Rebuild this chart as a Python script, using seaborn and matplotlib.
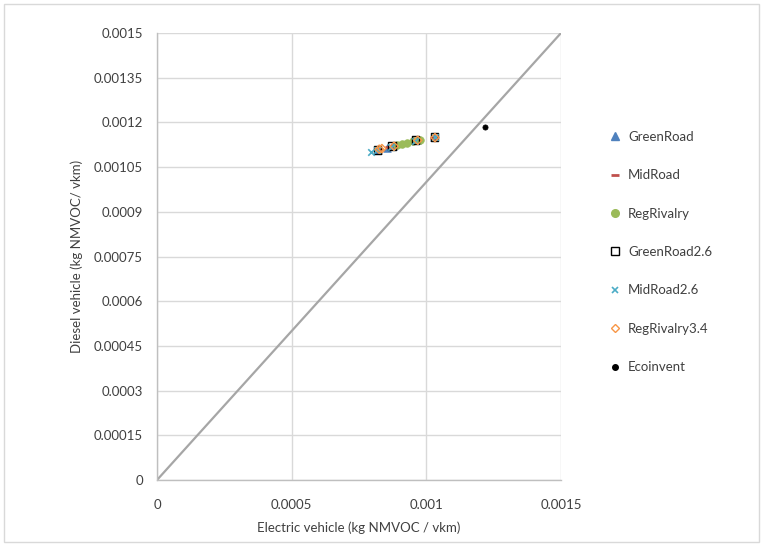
import matplotlib
matplotlib.use("Agg")
import matplotlib.pyplot as plt
import seaborn as sns
import pandas as pd
from matplotlib.lines import Line2D
from matplotlib.patches import Rectangle

# ---- data ----
series_names = ["GreenRoad", "MidRoad", "RegRivalry", "GreenRoad2.6",
                "MidRoad2.6", "RegRivalry3.4", "Ecoinvent"]
green_road_x = [0.000820, 0.000855, 0.000875, 0.000965, 0.001030]
green_road_y = [0.001108, 0.001115, 0.001120, 0.001140, 0.001150]
mid_road_x = [0.000825, 0.000860, 0.000880, 0.000962, 0.001028]
mid_road_y = [0.001110, 0.001117, 0.001121, 0.001139, 0.001149]
reg_rivalry_x = [0.000890, 0.000910, 0.000930, 0.000950, 0.000975]
reg_rivalry_y = [0.001124, 0.001128, 0.001132, 0.001136, 0.001141]
green_road26_x = [0.000818, 0.000872, 0.000960, 0.001030]
green_road26_y = [0.001108, 0.001120, 0.001140, 0.001150]
mid_road26_x = [0.000795, 0.000815, 0.000868, 0.000958, 0.001032]
mid_road26_y = [0.001100, 0.001107, 0.001118, 0.001138, 0.001150]
reg_rivalry34_x = [0.000825, 0.000835, 0.000880, 0.000968, 0.001032]
reg_rivalry34_y = [0.001110, 0.001112, 0.001120, 0.001140, 0.001149]
ecoinvent_x = [0.001218]
ecoinvent_y = [0.001183]
diag_vals = [0.0, 0.0015]

x_ticks = [0, 0.0005, 0.001, 0.0015]
x_tick_labels = ["0", "0.0005", "0.001", "0.0015"]
y_ticks = [0, 0.00015, 0.0003, 0.00045, 0.0006, 0.00075, 0.0009,
           0.00105, 0.0012, 0.00135, 0.0015]
y_tick_labels = ["0", "0.00015", "0.0003", "0.00045", "0.0006", "0.00075",
                 "0.0009", "0.00105", "0.0012", "0.00135", "0.0015"]
x_title = "Electric vehicle (kg NMVOC / vkm)"
y_title = "Diesel vehicle (kg NMVOC/ vkm)"

xs = [green_road_x, mid_road_x, reg_rivalry_x, green_road26_x,
      mid_road26_x, reg_rivalry34_x, ecoinvent_x]
ys = [green_road_y, mid_road_y, reg_rivalry_y, green_road26_y,
      mid_road26_y, reg_rivalry34_y, ecoinvent_y]

# ---- styles ----
styles = [
    dict(marker="^", s=30, color="#4F81BD", edgecolor="#4F81BD", linewidth=0.5),
    dict(marker="_", s=40, color="#C0504D", linewidth=2),
    dict(marker="o", s=30, color="#9BBB59", edgecolor="#9BBB59", linewidth=0.5),
    dict(marker="s", s=30, facecolor="none", edgecolor="black", linewidth=1.0),
    dict(marker="x", s=22, color="#4BACC6", linewidth=1.2),
    dict(marker="D", s=18, facecolor="none", edgecolor="#F79646", linewidth=1.0),
    dict(marker="o", s=14, color="black", edgecolor="black", linewidth=0.5),
]

sns.set_theme(style="white")
plt.rcParams["font.family"] = ["Lato", "DejaVu Sans"]
text_color = "#404040"

fig = plt.figure(figsize=(7.63, 5.46), dpi=100)
ax = fig.add_axes([157 / 763, 1 - 480 / 546, (561 - 157) / 763, (480 - 33) / 546])

# figure border
fig.patches.append(Rectangle((4 / 763, 4 / 546), 1 - 8 / 763, 1 - 8 / 546,
                             transform=fig.transFigure, fill=False,
                             edgecolor="#D9D9D9", linewidth=1.0))

# diagonal 1:1 line
sns.lineplot(x=diag_vals, y=diag_vals, ax=ax, color="#A6A6A6",
             linewidth=1.6, zorder=2)

handles = []
for name, xv, yv, st in zip(series_names, xs, ys, styles):
    df = pd.DataFrame({"x": xv, "y": yv})
    sns.scatterplot(data=df, x="x", y="y", ax=ax, zorder=3, legend=False, **st)
    mk = st["marker"]
    fc = st.get("facecolor", st.get("color"))
    ec = st.get("edgecolor", st.get("color"))
    if mk in ("_", "x"):
        h = Line2D([], [], linestyle="none", marker=mk, color=st["color"],
                   markersize=6 if mk == "_" else 5, markeredgewidth=st["linewidth"])
    else:
        h = Line2D([], [], linestyle="none", marker=mk,
                   markerfacecolor=fc, markeredgecolor=ec,
                   markersize={"^": 6, "o": 5.5 if name != "Ecoinvent" else 4,
                               "s": 5.5, "D": 4.5}[mk],
                   markeredgewidth=1.0)
    handles.append(h)

ax.set_xlim(0, 0.0015)
ax.set_ylim(0, 0.0015)
ax.set_xticks(x_ticks)
ax.set_xticklabels(x_tick_labels)
ax.set_yticks(y_ticks)
ax.set_yticklabels(y_tick_labels)
ax.tick_params(axis="both", length=0, labelsize=9.5, colors=text_color)
ax.tick_params(axis="x", pad=14)
ax.tick_params(axis="y", pad=10)
ax.grid(True, color="#D9D9D9", linewidth=1.0)
ax.set_axisbelow(True)
for side in ["top", "right"]:
    ax.spines[side].set_visible(False)
for side in ["left", "bottom"]:
    ax.spines[side].set_color("#BFBFBF")
    ax.spines[side].set_linewidth(1.0)
ax.set_xlabel(x_title, fontsize=9.5, color=text_color, labelpad=7)
ax.set_ylabel(y_title, fontsize=9.5, color=text_color, labelpad=8)

leg = fig.legend(handles, series_names, loc="center left",
                 bbox_to_anchor=(603 / 763, 1 - 252 / 546), frameon=False,
                 fontsize=9.5, labelspacing=2.0, handlelength=0.8,
                 handletextpad=0.6, borderpad=0, labelcolor=text_color)

fig.savefig("out.png", dpi=100)
